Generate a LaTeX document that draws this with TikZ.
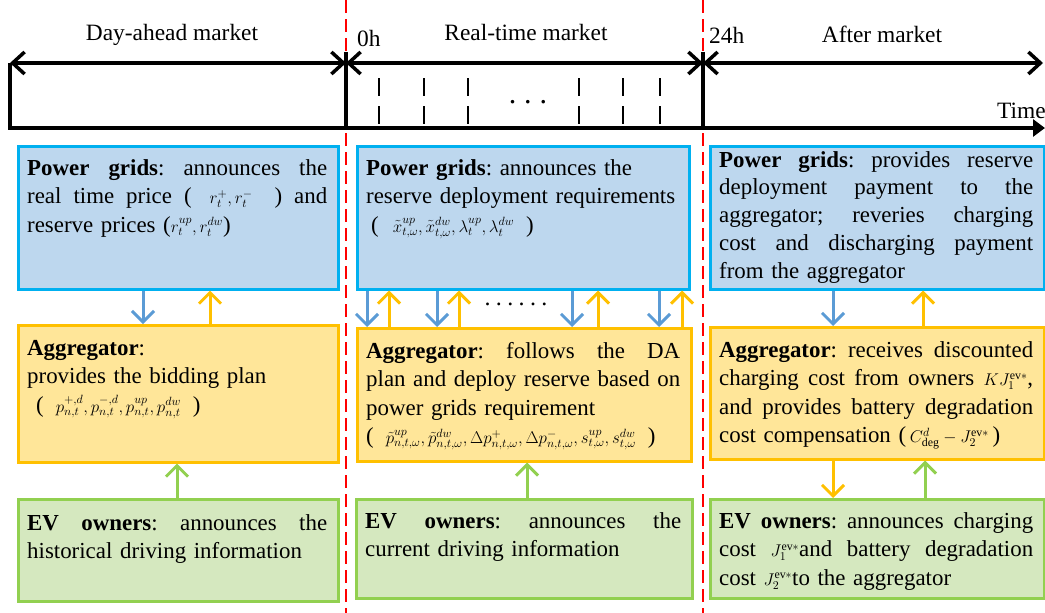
\documentclass[tikz,border=0pt]{standalone}
\usepackage{fix-cm}
\usepackage{fontspec}
\setmainfont{Liberation Serif}
\usetikzlibrary{arrows.meta}

\definecolor{gridfill}{HTML}{BDD7EE}
\definecolor{gridline}{HTML}{00B0F0}
\definecolor{aggfill}{HTML}{FFE699}
\definecolor{aggline}{HTML}{FFC000}
\definecolor{evfill}{HTML}{D5E8BF}
\definecolor{evline}{HTML}{92D050}
\definecolor{flowblue}{HTML}{5B9BD5}
\definecolor{flowgold}{HTML}{FFC000}
\definecolor{flowgreen}{HTML}{92D050}
\definecolor{phasered}{HTML}{FF0000}

% small inline math and fully justified lines
\newcommand\sm[1]{{\fontsize{17}{20}\selectfont$#1$}}
\newcommand\fl[1]{\leavevmode\hbox to \hsize{\spaceskip=0.25em plus 1fil\relax #1}}
\hyphenpenalty=10000
\AtBeginDocument{\frenchspacing}

\tikzset{
  panel/.style={draw, line width=2.5pt, anchor=north west, inner sep=0pt},
  gridbox/.style={panel, fill=gridfill, draw=gridline},
  aggbox/.style={panel, fill=aggfill, draw=aggline},
  evbox/.style={panel, fill=evfill, draw=evline},
  body/.style={anchor=base west, inner sep=0pt, align=left,
    font=\fontsize{22.9}{28.5}\selectfont},
  lbl/.style={inner sep=0pt, font=\fontsize{23.4}{28}\selectfont},
  flow/.style={line width=3pt, -{Straight Barb[length=11pt,width=22pt]}},
  axis/.style={line width=3.5pt, black},
  phase/.style={line width=2pt, phasered, dash pattern=on 13pt off 6pt},
  tick/.style={line width=2.5pt, dash pattern=on 18pt off 10pt},
}

\begin{document}
\begin{tikzpicture}[x=1pt, y=-1pt]
\useasboundingbox (0,0) rectangle (1045,613);

% phase separators
\coordinate (s1a) at (346,0);   \coordinate (s1b) at (346,613);
\coordinate (s2a) at (703,0);   \coordinate (s2b) at (703,613);
\draw[phase] (s1a) -- (s1b);
\draw[phase] (s2a) -- (s2b);

% time axis
\coordinate (t0) at (10,63);
\coordinate (t1) at (346,63);
\coordinate (t2) at (703,63);
\coordinate (t3) at (1043,63);
\coordinate (b0) at (10,128);
\coordinate (b3) at (1045,128);
\coordinate (v1a) at (346,52);  \coordinate (v1b) at (346,128);
\coordinate (v2a) at (703,52);  \coordinate (v2b) at (703,128);
\begin{scope}[axis, >={Straight Barb[length=12pt,width=22pt]}]
  \draw[<->] (t0) -- (t1);
  \draw[<->] (t1) -- (t2);
  \draw[<->] (t2) -- (t3);
  \draw[-{Triangle[length=12pt,width=17pt]}, line join=miter] (t0) -- (b0) -- (b3);
  \draw (v1a) -- (v1b);
  \draw (v2a) -- (v2b);
\end{scope}

% real-time intervals
\foreach \x [count=\i] in {379,424,468,579,623,660} {
  \coordinate (ka\i) at (\x,78);
  \coordinate (kb\i) at (\x,124);
  \draw[tick] (ka\i) -- (kb\i);
}
\node[inner sep=0pt] (rtdots) at (528,102)
  {\fontsize{30}{30}\selectfont .\hspace{8pt}.\hspace{8pt}.};

% phase labels
\node[lbl, anchor=base] (da) at (172,40) {Day-ahead market};
\node[lbl, anchor=base] (rt) at (526,40) {Real-time market};
\node[lbl, anchor=base] (am) at (882,42) {After market};
\node[lbl, anchor=base west] (h0) at (357,46) {0h};
\node[lbl, anchor=base west] (h24) at (709,43) {24h};
\node[lbl, anchor=base east] (tm) at (1046,118) {Time};

% panels
\node[gridbox, minimum width=320pt, minimum height=143pt] (pgL) at (17,145) {};
\node[gridbox, minimum width=332pt, minimum height=143pt] (pgM) at (356,145) {};
\node[gridbox, minimum width=334pt, minimum height=143pt] (pgR) at (709,145) {};
\node[aggbox, minimum width=320pt, minimum height=137pt] (agL) at (17,324) {};
\node[aggbox, minimum width=334pt, minimum height=133pt] (agM) at (356,327) {};
\node[aggbox, minimum width=334pt, minimum height=132pt] (agR) at (709,326) {};
\node[evbox, minimum width=320pt, minimum height=102pt] (evL) at (17,498) {};
\node[evbox, minimum width=336pt, minimum height=99pt] (evM) at (355,498) {};
\node[evbox, minimum width=334pt, minimum height=99pt] (evR) at (709,498) {};

% panel texts
\node[body, text width=300pt] (pgLt) at (27,175) {%
\fl{\textbf{Power grids}: announces the}\\
\fl{real time price (\hspace{18pt}\sm{r_t^{+},r_t^{-}}\hspace{22pt}) and}\\
reserve prices (\sm{r_t^{up},r_t^{dw}})};

\node[body, text width=318pt] (pgMt) at (366,175) {%
\textbf{Power grids}: announces the\\
reserve deployment requirements\\
\hspace*{5pt}(\hspace{14pt}\sm{\tilde{x}^{up}_{t,\omega},\tilde{x}^{dw}_{t,\omega},\lambda^{up}_{t},\lambda^{dw}_{t}}\hspace{12pt})};

\node[body, text width=314pt, font=\fontsize{22.9}{27.8}\selectfont] (pgRt) at (719,167) {%
\fl{\textbf{Power grids}: provides reserve}\\
\fl{deployment payment to the}\\
\fl{aggregator; reveries charging}\\
\fl{cost and discharging payment}\\
from the aggregator};

\node[body, text width=300pt] (agLt) at (27,355) {%
\textbf{Aggregator}:\\
provides the bidding plan\\
\hspace*{9pt}(\hspace{12pt}\sm{p^{+,d}_{n,t},p^{-,d}_{n,t},p^{up}_{n,t},p^{dw}_{n,t}}\hspace{12pt})};

\node[body, text width=314pt] (agMt) at (366,358) {%
\fl{\textbf{Aggregator}: follows the DA}\\
\fl{plan and deploy reserve based on}\\
power grids requirement\\
(\hspace{12pt}\sm{\tilde{p}^{up}_{n,t,\omega},\tilde{p}^{dw}_{n,t,\omega},\Delta p^{+}_{n,t,\omega},\Delta p^{-}_{n,t,\omega},s^{up}_{t,\omega},s^{dw}_{t,\omega}}\hspace{12pt})};

\node[body, text width=314pt] (agRt) at (719,357) {%
\fl{\textbf{Aggregator}: receives discounted}\\
\fl{charging cost from owners \sm{KJ_1^{\mathrm{ev}*}},}\\
\fl{and provides battery degradation}\\
cost compensation (\,\sm{C^{d}_{\deg}-J_2^{\mathrm{ev}*}}\,)};

\node[body, text width=300pt] (evLt) at (27,530) {%
\fl{\textbf{EV owners}: announces the}\\
historical driving information};

\node[body, text width=316pt] (evMt) at (365,528) {%
\fl{\textbf{EV owners}: announces the}\\
current driving information};

\node[body, text width=314pt] (evRt) at (719,528) {%
\fl{\textbf{EV owners}: announces charging}\\
\fl{cost \sm{J_1^{\mathrm{ev}*}}and battery degradation}\\
cost \sm{J_2^{\mathrm{ev}*}}to the aggregator};

% day-ahead exchanges
\coordinate (xL1) at (143,0);
\coordinate (xL2) at (210,0);
\coordinate (xL3) at (177,0);
\draw[flow, flowblue]  (pgL.south -| xL1) -- (agL.north -| xL1);
\draw[flow, flowgold]  (agL.north -| xL2) -- (pgL.south -| xL2);
\draw[flow, flowgreen] (evL.north -| xL3) -- (agL.south -| xL3);

% real-time exchanges
\foreach \x [count=\i] in {367,437,572,659} {
  \coordinate (xMb\i) at (\x,0);
  \draw[flow, flowblue] (pgM.south -| xMb\i) -- (agM.north -| xMb\i);
}
\foreach \x [count=\i] in {389,459,598,682} {
  \coordinate (xMg\i) at (\x,0);
  \draw[flow, flowgold] (agM.north -| xMg\i) -- (pgM.south -| xMg\i);
}
\node[inner sep=0pt] (flowdots) at (516,304)
  {\fontsize{24}{24}\selectfont .\hspace{5.4pt}.\hspace{5.4pt}.\hspace{5.4pt}.\hspace{5.4pt}.\hspace{5.4pt}.};
\coordinate (xM3) at (527,0);
\draw[flow, flowgreen] (evM.north -| xM3) -- (agM.south -| xM3);

% after-market exchanges
\coordinate (xR1) at (833,0);
\coordinate (xR2) at (923,0);
\coordinate (xR3) at (925,0);
\draw[flow, flowblue]  (pgR.south -| xR1) -- (agR.north -| xR1);
\draw[flow, flowgold]  (agR.north -| xR2) -- (pgR.south -| xR2);
\draw[flow, flowgold]  (agR.south -| xR1) -- (evR.north -| xR1);
\draw[flow, flowgreen] (evR.north -| xR3) -- (agR.south -| xR3);
\end{tikzpicture}
\end{document}
